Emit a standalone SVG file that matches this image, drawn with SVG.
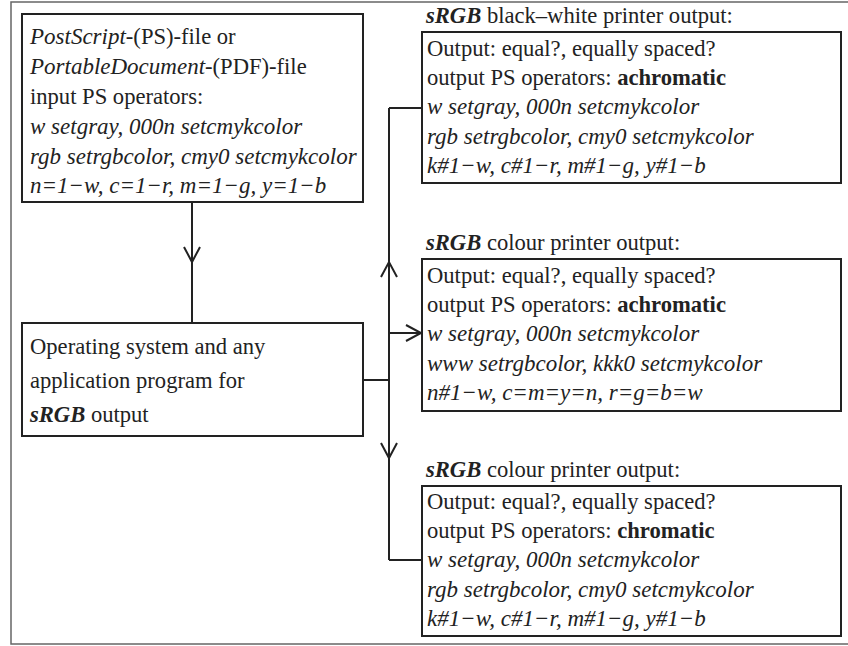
<svg xmlns="http://www.w3.org/2000/svg" width="848" height="646" viewBox="0 0 848 646">
<style>
.box{fill:#fff;stroke:#222;stroke-width:2}
.frame{fill:none;stroke:#666;stroke-width:1.5}
.ln{fill:none;stroke:#222;stroke-width:2}
.ah{fill:none;stroke:#222;stroke-width:2;stroke-linejoin:miter}
text{font-family:"Liberation Serif","Times New Roman",serif;font-size:22.6px;fill:#222}
.i{font-style:italic;font-size:23px}
.b{font-weight:bold}
.bi{font-weight:bold;font-style:italic}
</style>
<rect width="848" height="646" fill="#fff"/>
<path class="frame" d="M849,2 H11 V644 H849"/>
<g id="connectors">
<path class="ln" d="M192,202 V323"/>
<path class="ah" d="M184,247 L192,262 L200,247"/>
<path class="ln" d="M363,380 H389"/>
<path class="ln" d="M389,108 V560"/>
<path class="ln" d="M389,108 H422"/>
<path class="ln" d="M389,333 H421"/>
<path class="ln" d="M389,560 H422"/>
<path class="ah" d="M381,277 L389,262 L397,277"/>
<path class="ah" d="M406,325 L421,333 L406,341"/>
<path class="ah" d="M381,443 L389,458 L397,443"/>
</g>
<g id="input">
<rect class="box" x="22" y="14" width="341" height="188"/>
<text x="30" y="44"><tspan class="i">PostScript</tspan>-(PS)-file or</text>
<text x="30" y="74"><tspan class="i">PortableDocument</tspan>-(PDF)-file</text>
<text x="30" y="104">input PS operators:</text>
<text x="30" y="134" class="i">w setgray, 000n setcmykcolor</text>
<text x="30" y="164" class="i">rgb setrgbcolor, cmy0 setcmykcolor</text>
<text x="30" y="193" class="i">n=1−w, c=1−r, m=1−g, y=1−b</text>
</g>
<g id="os">
<rect class="box" x="22" y="323" width="341" height="113"/>
<text x="30" y="354">Operating system and any</text>
<text x="30" y="388">application program for</text>
<text x="30" y="422"><tspan class="bi">sRGB</tspan> output</text>
</g>
<g id="bw">
<text x="426" y="23"><tspan class="bi">sRGB</tspan> black–white printer output:</text>
<rect class="box" x="422" y="32" width="419" height="151"/>
<text x="427" y="56">Output: equal?, equally spaced?</text>
<text x="427" y="85">output PS operators: <tspan class="b">achromatic</tspan></text>
<text x="427" y="114" class="i">w setgray, 000n setcmykcolor</text>
<text x="427" y="144" class="i">rgb setrgbcolor, cmy0 setcmykcolor</text>
<text x="427" y="173" class="i">k#1−w, c#1−r, m#1−g, y#1−b</text>
</g>
<g id="colour-achromatic">
<text x="426" y="250"><tspan class="bi">sRGB</tspan> colour printer output:</text>
<rect class="box" x="422" y="259" width="419" height="152"/>
<text x="427" y="283">Output: equal?, equally spaced?</text>
<text x="427" y="312">output PS operators: <tspan class="b">achromatic</tspan></text>
<text x="427" y="341" class="i">w setgray, 000n setcmykcolor</text>
<text x="427" y="371" class="i">www setrgbcolor, kkk0 setcmykcolor</text>
<text x="427" y="400" class="i">n#1−w, c=m=y=n, r=g=b=w</text>
</g>
<g id="colour-chromatic">
<text x="426" y="477"><tspan class="bi">sRGB</tspan> colour printer output:</text>
<rect class="box" x="422" y="486" width="419" height="150"/>
<text x="427" y="509">Output: equal?, equally spaced?</text>
<text x="427" y="538">output PS operators: <tspan class="b">chromatic</tspan></text>
<text x="427" y="567" class="i">w setgray, 000n setcmykcolor</text>
<text x="427" y="597" class="i">rgb setrgbcolor, cmy0 setcmykcolor</text>
<text x="427" y="626" class="i">k#1−w, c#1−r, m#1−g, y#1−b</text>
</g>
</svg>
